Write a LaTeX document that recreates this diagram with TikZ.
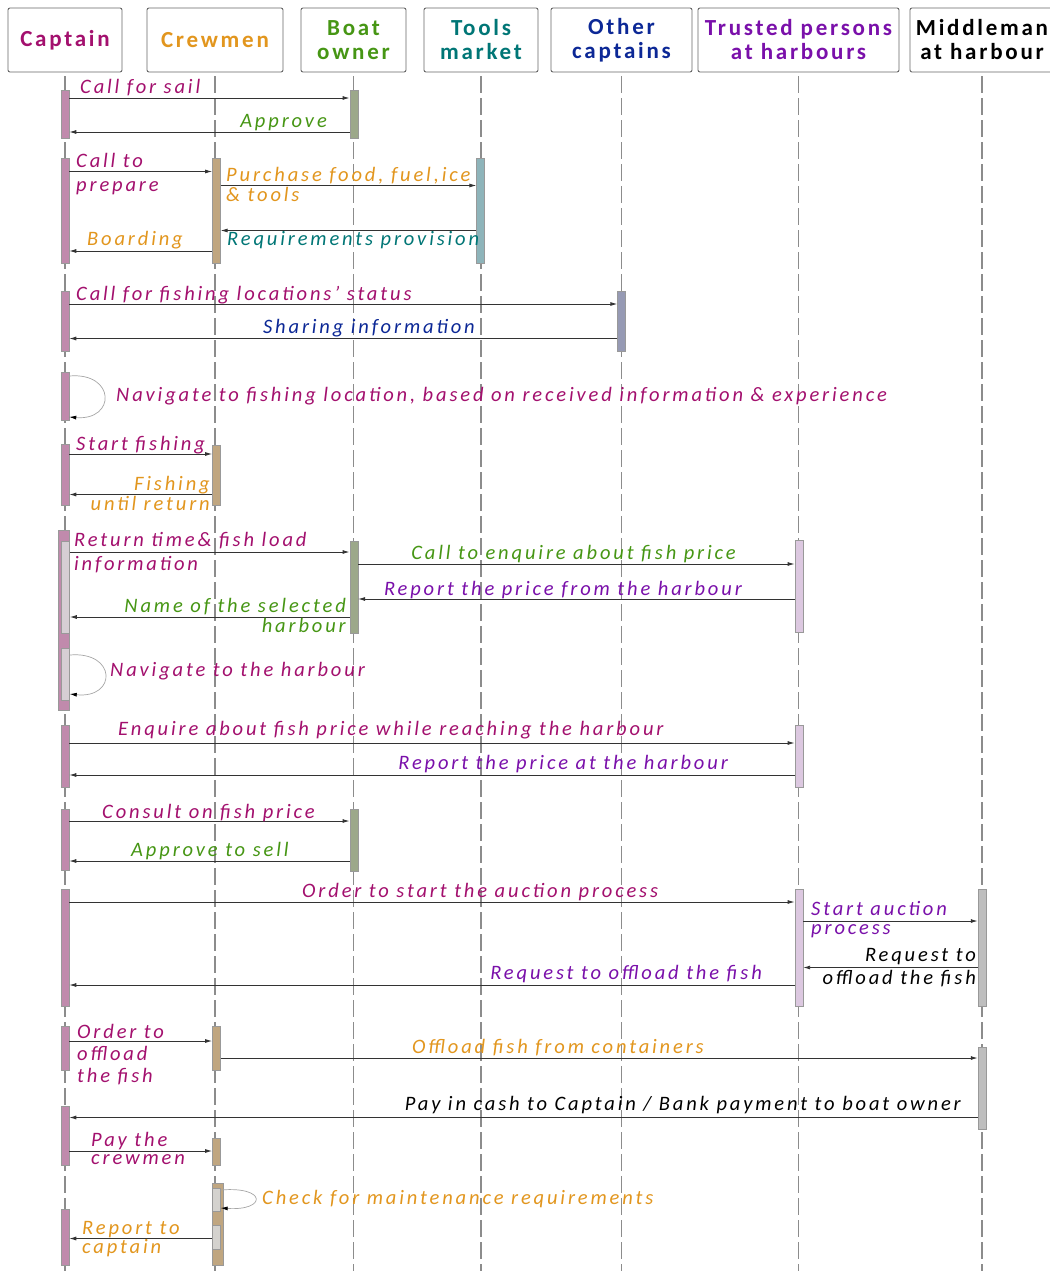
\documentclass[tikz,border=0pt]{standalone}
\usepackage{fontspec}
\setmainfont{Carlito}
\newfontfamily\headfont{Carlito}[LetterSpace=12]
\newfontfamily\msgfont{Carlito}[LetterSpace=14]
\usetikzlibrary{positioning, arrows.meta}

% text colours
\definecolor{capt}{RGB}{163,16,110}
\definecolor{crew}{RGB}{226,150,30}
\definecolor{owner}{RGB}{70,150,20}
\definecolor{tools}{RGB}{0,118,118}
\definecolor{others}{RGB}{12,40,150}
\definecolor{trust}{RGB}{122,16,170}
% activation bar colours
\definecolor{captbar}{RGB}{192,138,172}
\definecolor{crewbar}{RGB}{192,166,128}
\definecolor{ownerbar}{RGB}{156,168,138}
\definecolor{toolsbar}{RGB}{142,180,186}
\definecolor{othersbar}{RGB}{150,154,180}
\definecolor{trustbar}{RGB}{220,200,224}
\definecolor{middlebar}{RGB}{190,190,190}
\definecolor{nestbar}{RGB}{214,206,212}
\definecolor{crewnest}{RGB}{212,210,206}

\begin{document}
\begin{tikzpicture}[x=1pt, y=-1pt,
        actor/.style={rectangle, draw=black!60, rounded corners=2pt, line width=0.9pt, fill=white, minimum height=64pt, inner sep=0pt, align=center, font=\headfont\bfseries\fontsize{23}{24}\selectfont},
        lifeline/.style={draw=black!45, line width=1.1pt, dash pattern=on 17pt off 5pt},
        bar/.style={rectangle, draw=black!40, line width=0.5pt, minimum width=8pt, inner sep=0pt, anchor=north},
        msg/.style={draw=black!80, line width=0.9pt, -{Latex[length=7pt,width=4pt]}},
        selfmsg/.style={draw=black!35, line width=0.7pt, -{Latex[length=7pt,width=4pt,color=black]}},
        lbl/.style={inner sep=0pt, font=\msgfont\itshape\fontsize{20.5}{22}\selectfont}
    ]
    \useasboundingbox[fill=white] (0,0) rectangle (1049,1271);
    % Actors (top row)
    \node[actor, minimum width=114pt, text=capt] (captain) at (65,40) {Captain};
    \node[actor, minimum width=136pt, text=crew] (crewmen) at (215,40) {Crewmen};
    \node[actor, minimum width=105pt, text=owner] (boatowner) at (353.5,40) {Boat\\owner};
    \node[actor, minimum width=114pt, text=tools] (toolsmarket) at (481,40) {Tools\\market};
    \node[actor, minimum width=141pt, text=others] (othercapt) at (621.5,40) {Other\\captains};
    \node[actor, minimum width=201pt, text=trust] (trusted) at (798.5,40) {Trusted persons\\at harbours};
    \node[actor, minimum width=144pt] (middleman) at (982,40) {Middleman\\at harbour};
    % Lifelines
    \foreach \a in {captain, crewmen, boatowner, toolsmarket, othercapt, trusted, middleman}
        \draw[lifeline] ([yshift=-4pt]\a.south) -- ++(0,1200);

    % Activation bars - Captain
    \node[bar, fill=captbar, minimum height=48pt] (c1) at (captain |- 0,90) {};
    \node[bar, fill=captbar, minimum height=105pt] (c2) at (captain |- 0,158) {};
    \node[bar, fill=captbar, minimum height=60pt] (c3) at (captain |- 0,291) {};
    \node[bar, fill=captbar, minimum height=48pt] (c4) at (captain |- 0,372) {};
    \node[bar, fill=captbar, minimum height=61pt] (c5) at (captain |- 0,444) {};
    \node[bar, fill=captbar, minimum width=11.5pt, minimum height=180pt] (c6) at (63.8,530) {};
    \node[bar, fill=nestbar, minimum height=92pt] (c6a) at (65.5,541) {};
    \node[bar, fill=nestbar, minimum height=52pt] (c6b) at (65.5,648) {};
    \node[bar, fill=captbar, minimum height=62pt] (c7) at (captain |- 0,725) {};
    \node[bar, fill=captbar, minimum height=61pt] (c8) at (captain |- 0,809) {};
    \node[bar, fill=captbar, minimum height=117pt] (c9) at (captain |- 0,889) {};
    \node[bar, fill=captbar, minimum height=44pt] (c10) at (captain |- 0,1026) {};
    \node[bar, fill=captbar, minimum height=59pt] (c11) at (captain |- 0,1106) {};
    \node[bar, fill=captbar, minimum height=56pt] (c12) at (captain |- 0,1209) {};
    % Activation bars - Crewmen
    \node[bar, fill=crewbar, minimum height=105pt] (w2) at (216.4,158) {};
    \node[bar, fill=crewbar, minimum height=60pt] (w5) at (216.4,445) {};
    \node[bar, fill=crewbar, minimum height=44pt] (w10) at (216.4,1026) {};
    \node[bar, fill=crewbar, minimum height=27pt] (w11) at (216.4,1138) {};
    \node[bar, fill=crewbar, minimum width=11pt, minimum height=82pt] (w12) at (217.7,1183) {};
    \node[bar, fill=crewnest, minimum height=23pt] (w12a) at (216.4,1188) {};
    \node[bar, fill=crewnest, minimum height=24pt] (w12b) at (216.4,1225) {};
    % Activation bars - other actors
    \node[bar, fill=ownerbar, minimum height=48pt] (o1) at (353.8,90) {};
    \node[bar, fill=ownerbar, minimum height=92pt] (o6) at (353.8,541) {};
    \node[bar, fill=ownerbar, minimum height=62pt] (o8) at (353.8,809) {};
    \node[bar, fill=toolsbar, minimum height=105pt] (t2) at (480.6,158) {};
    \node[bar, fill=othersbar, minimum height=60pt] (x3) at (621.6,291) {};
    \node[bar, fill=trustbar, minimum height=92pt] (r6) at (798.9,540) {};
    \node[bar, fill=trustbar, minimum height=62pt] (r7) at (798.9,725) {};
    \node[bar, fill=trustbar, minimum height=117pt] (r9) at (798.9,889) {};
    \node[bar, fill=middlebar, minimum height=117pt] (m9) at (982,889) {};
    \node[bar, fill=middlebar, minimum height=82pt] (m10) at (982,1047) {};

    % Sailing out
    \draw[msg] (c1.east |- 0,98) -- (o1.west |- 0,98);
    \node[lbl, text=capt, anchor=base west] (l1) at (80,94) {Call for sail};
    \draw[msg] (o1.west |- 0,132) -- (c1.east |- 0,132);
    \node[lbl, text=owner, anchor=base east] (l2) at (327,128) {Approve};
    % Preparation
    \draw[msg] (c2.east |- 0,171.5) -- (w2.west |- 0,171.5);
    \node[lbl, text=capt, anchor=base west, align=left] (l3) at (76,191) {Call to\\[2pt]prepare};
    \draw[msg] (w2.east |- 0,185.5) -- (t2.west |- 0,185.5);
    \node[lbl, text=crew, anchor=base west, align=left] (l4) at (226,201) {Purchase food, fuel,ice\\[-2pt]\& tools};
    \draw[msg] (t2.west |- 0,230.5) -- (w2.east |- 0,230.5);
    \node[lbl, text=tools, anchor=base west] (l5) at (227,245) {Requirements provision};
    \draw[msg] (w2.west |- 0,251) -- (c2.east |- 0,251);
    \node[lbl, text=crew, anchor=base east] (l6) at (183,245) {Boarding};
    % Fishing locations
    \draw[msg] (c3.east |- 0,304) -- (x3.west |- 0,304);
    \node[lbl, text=capt, anchor=base west] (l7) at (76,300) {Call for fishing locations’ status};
    \draw[msg] (x3.west |- 0,338.5) -- (c3.east |- 0,338.5);
    \node[lbl, text=others, anchor=base east] (l8) at (475,333) {Sharing information};
    \draw[selfmsg] (c4.east |- 0,376) .. controls (116,372) and (116,421) .. (c4.east |- 0,417);
    \node[lbl, text=capt, anchor=base west] (l9) at (116,401) {Navigate to fishing location, based on received information \& experience};
    % Fishing
    \draw[msg] (c5.east |- 0,454) -- (w5.west |- 0,454);
    \node[lbl, text=capt, anchor=base west] (l10) at (76,450) {Start fishing};
    \draw[msg] (w5.west |- 0,494.5) -- (c5.east |- 0,494.5);
    \node[lbl, text=crew, anchor=base east, align=right] (l11) at (210,510) {Fishing\\[-2pt]until return};
    % Selecting the harbour
    \draw[msg] (c6a.east |- 0,552) -- (o6.west |- 0,552);
    \node[lbl, text=capt, anchor=base west, align=left] (l12) at (74,570.5) {Return time\& fish load\\[2pt]information};
    \draw[msg] (o6.east |- 0,564) -- (r6.west |- 0,564);
    \node[lbl, text=owner, anchor=base east] (l13) at (736,559) {Call to enquire about fish price};
    \draw[msg] (r6.west |- 0,599) -- (o6.east |- 0,599);
    \node[lbl, text=trust, anchor=base east] (l14) at (742,595) {Report the price from the harbour};
    \draw[msg] (o6.west |- 0,617) -- (c6a.east |- 0,617);
    \node[lbl, text=owner, anchor=base east, align=right] (l15) at (346,632.5) {Name of the selected\\[-2pt]harbour};
    \draw[selfmsg] (c6b.east |- 0,655) .. controls (117,651) and (117,699) .. (c6b.east |- 0,694);
    \node[lbl, text=capt, anchor=base west] (l16) at (110,676) {Navigate to the harbour};
    % Price check on the way
    \draw[msg] (c7.east |- 0,743) -- (r7.west |- 0,743);
    \node[lbl, text=capt, anchor=base west] (l17) at (118,735) {Enquire about fish price while reaching the harbour};
    \draw[msg] (r7.west |- 0,775) -- (c7.east |- 0,775);
    \node[lbl, text=trust, anchor=base east] (l18) at (728,769) {Report the price at the harbour};
    \draw[msg] (c8.east |- 0,821) -- (o8.west |- 0,821);
    \node[lbl, text=capt, anchor=base west] (l19) at (102,818) {Consult on fish price};
    \draw[msg] (o8.west |- 0,861) -- (c8.east |- 0,861);
    \node[lbl, text=owner, anchor=base west] (l20) at (131,856) {Approve to sell};
    % Auction
    \draw[msg] (c9.east |- 0,902) -- (r9.west |- 0,902);
    \node[lbl, text=capt, anchor=base west] (l21) at (302,897) {Order to start the auction process};
    \draw[msg] (r9.east |- 0,921) -- (m9.west |- 0,921);
    \node[lbl, text=trust, anchor=base west, align=left] (l22) at (811,934) {Start auction\\[-3pt]process};
    \draw[msg] (m9.west |- 0,967.5) -- (r9.east |- 0,967.5);
    \node[lbl, anchor=base east, align=right] (l23) at (976,984.5) {Request to\\[1pt]offload the fish};
    \draw[msg] (r9.west |- 0,985) -- (c9.east |- 0,985);
    \node[lbl, text=trust, anchor=base east] (l24) at (762,979) {Request to offload the fish};
    % Offloading and payment
    \draw[msg] (c10.east |- 0,1041) -- (w10.west |- 0,1041);
    \node[lbl, text=capt, anchor=base west, align=left] (l25) at (77,1082) {Order to\\offload\\the fish};
    \draw[msg] (w10.east |- 0,1058) -- (m10.west |- 0,1058);
    \node[lbl, text=crew, anchor=base west] (l26) at (412,1053) {Offload fish from containers};
    \draw[msg] (m10.west |- 0,1117.5) -- (c11.east |- 0,1117.5);
    \node[lbl, anchor=base east] (l27) at (961,1110) {Pay in cash to Captain / Bank payment to boat owner};
    \draw[msg] (c11.east |- 0,1151) -- (w11.west |- 0,1151);
    \node[lbl, text=capt, anchor=base west, align=left] (l28) at (91,1164) {Pay the\\[-4pt]crewmen};
    % Maintenance
    \draw[selfmsg] (w12a.east |- 0,1190) .. controls (267,1186) and (267,1211) .. (w12a.east |- 0,1208);
    \node[lbl, text=crew, anchor=base west] (l29) at (262,1204) {Check for maintenance requirements};
    \draw[msg] (w12b.west |- 0,1238.5) -- (c12.east |- 0,1238.5);
    \node[lbl, text=crew, anchor=base west, align=left] (l30) at (82,1253) {Report to\\[-3pt]captain};
\end{tikzpicture}
\end{document}
